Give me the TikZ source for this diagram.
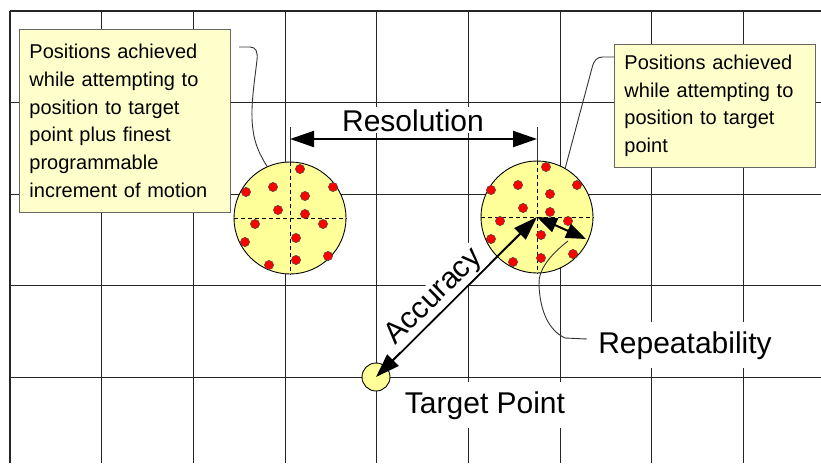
\documentclass[tikz,border=0pt]{standalone}
\usepackage{fontspec}
\setmainfont{Liberation Sans}
\usetikzlibrary{arrows.meta,calc,positioning}
\definecolor{SpotYellow}{HTML}{FFFF99}
\definecolor{NoteYellow}{HTML}{FFFFCC}
\definecolor{DotRed}{HTML}{FF0000}

\begin{document}
\begin{tikzpicture}[x=1pt,y=-1pt,
    grid/.style={line width=1.1pt,black!85},
    spot/.style={circle,draw=black,line width=0.9pt,fill=SpotYellow,inner sep=0pt},
    cross/.style={line width=1pt,dash pattern=on 4pt off 3pt},
    dot/.style={fill=DotRed,draw=black!70,line width=0.5pt},
    note/.style={draw=black!60,line width=0.9pt,fill=NoteYellow,anchor=north west,
    align=left,inner xsep=10pt,font=\fontsize{20}{27.7}\selectfont},
    lead/.style={line width=0.9pt,black!80},
    big/.style={font=\fontsize{30}{34}\selectfont,fill=white},
    arr/.style={{Triangle[length=24pt,width=16pt]}-{Triangle[length=24pt,width=16pt]},line width=2pt},
    smallarr/.style={{Triangle[length=20pt,width=15pt]}-{Triangle[length=20pt,width=15pt]},line width=2pt}]
    \useasboundingbox (0,0) rectangle (821,463);
    \fill[white] (0,0) rectangle (821,463);
    % background grid
    \foreach \gx in {0,...,8}
      \draw[grid] ({10+91.7*\gx},11) -- ({10+91.7*\gx},463);
    \foreach \gy in {0,...,4}
      \draw[grid] (10,{11+91.6*\gy}) -- (821,{11+91.6*\gy});

    \node[spot,minimum size=112pt] (leftspot) at (290,218) {};
    \node[spot,minimum size=112pt] (rightspot) at (537,217) {};
    \node[spot,minimum size=28pt] (target) at (376,377) {};
    \draw[cross] (leftspot.north) -- (leftspot.south);
    \draw[cross] (leftspot.west) -- (leftspot.east);
    \draw[cross] (rightspot.north) -- (rightspot.south);
    \draw[cross] (rightspot.west) -- (rightspot.east);
    \foreach \px/\py in {300/169,273/187,333/187,246/192,305/196,278/210,305/214,
      255/224,323/224,296/238,245/242,296/260,328/256,269/265}
      \filldraw[dot] (\px,\py) circle (4.6pt);
    \foreach \px/\py in {546/167,491/190,518/185,577/185,550/194,523/208,550/212,
      500/221,568/221,541/235,491/239,513/262,541/258,573/254}
      \filldraw[dot] (\px,\py) circle (4.6pt);

    % notes and leaders
    \node[note,minimum width=211pt,minimum height=183pt,text width=191pt] (noteL) at (19,29)
      {Positions achieved\\while attempting to\\position to target\\point plus finest\\programmable\\increment of motion};
    \node[note,minimum width=201pt,minimum height=123pt,text width=181pt] (noteR) at (614,44)
      {Positions achieved\\while attempting to\\position to target\\point};
    \coordinate (leadL) at (239,47);
    \draw[lead] (leadL) -- (250,47) .. controls (256,47) and (258,52) .. (257,60)
      .. controls (254,85) and (250,110) .. (253,130)
      .. controls (255,145) and (260,155) .. (leftspot.114);
    \draw[lead] (noteR.west |- 0,57) -- (603,57) .. controls (597,57) and (594,60) .. (592,68)
      -- (rightspot.60);

    % resolution
    \coordinate (extL) at (290,127);
    \coordinate (extR) at (537,127);
    \coordinate (resL) at (290,139);
    \coordinate (resR) at (537,139);
    \draw[lead] (leftspot.north) -- (extL);
    \draw[lead] (rightspot.north) -- (extR);
    \node[big,inner sep=2pt,anchor=base] (reslabel) at (413,131) {Resolution};
    \draw[arr] (resL) -- (resR);

    % accuracy and repeatability
    \draw[arr] (target.center) -- node[big,sloped,above,pos=0.43,inner sep=1pt] (acclabel) {Accuracy} (rightspot.center);
    \coordinate (repEnd) at (586,239);
    \draw[smallarr] (rightspot.center) -- (repEnd);
    \node[big,inner sep=9pt,anchor=base] (replabel) at (685,353) {Repeatability};
    \coordinate (leadR) at (587,339);
    \draw[lead] (leadR) -- (565,338) .. controls (548,330) and (540,310) .. (539,285)
      .. controls (538,270) and (550,255) .. (568,241);
    \node[big,inner sep=9pt,anchor=base] (targetlabel) at (485,413) {Target Point};
\end{tikzpicture}
\end{document}
